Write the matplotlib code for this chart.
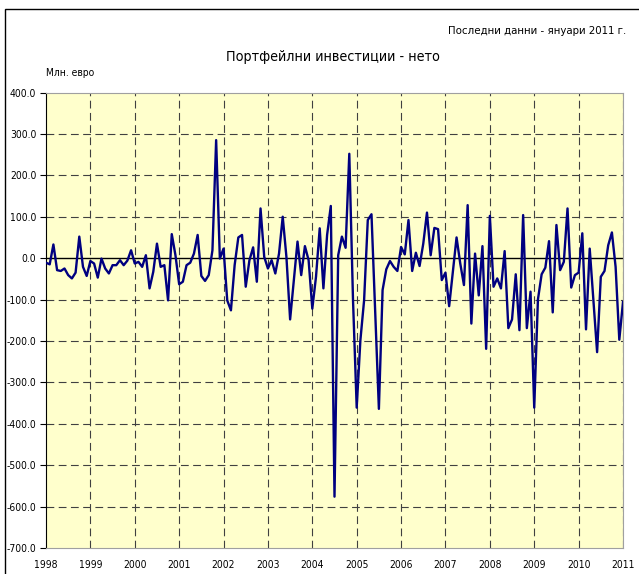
import numpy as np
import matplotlib.pyplot as plt
from matplotlib.patches import Rectangle
from matplotlib import font_manager

# monthly net portfolio investment, mln EUR, Jan 1998 - Jan 2011
y1998 = [-11, -15, 33, -29, -31, -25, -41, -49, -35, 52, -21, -43]
y1999 = [-7, -13, -47, -1, -25, -37, -17, -17, -5, -17, -6, 19]
y2000 = [-13, -9, -21, 7, -73, -33, 35, -21, -17, -102, 58, 7]
y2001 = [-63, -57, -17, -11, 11, 56, -43, -55, -41, 19, 285, -1]
y2002 = [23, -102, -126, -17, 50, 56, -69, -5, 26, -57, 120, 3]
y2003 = [-25, -5, -37, 11, 100, 3, -148, -53, 40, -41, 29, -5]
y2004 = [-122, -45, 72, -73, 56, 126, -576, 7, 52, 25, 252, -100]
y2005 = [-361, -198, -102, 92, 106, -130, -364, -77, -27, -7, -21, -31]
y2006 = [27, 9, 92, -31, 13, -19, 35, 110, 7, 73, 70, -53]
y2007 = [-35, -116, -33, 50, -13, -65, 128, -158, 11, -90, 29, -219]
y2008 = [102, -69, -49, -73, 17, -169, -148, -39, -174, 104, -169, -81]
y2009 = [-361, -100, -39, -23, 41, -131, 80, -29, -9, 120, -71, -41]
y2010 = [-35, 60, -172, 23, -102, -227, -45, -31, 31, 62, -21, -197]
y2011 = [-106]

values = (y1998 + y1999 + y2000 + y2001 + y2002 + y2003 + y2004 + y2005
          + y2006 + y2007 + y2008 + y2009 + y2010 + y2011)
years = list(range(1998, 2012))
x = 1998 + np.arange(len(values)) / 12.0

# narrow font if there is one, else Liberation Sans a bit smaller
names = [f.fname for f in font_manager.fontManager.ttflist]
if any('DejaVuSansCondensed' in n for n in names):
    plt.rcParams['font.family'] = ['DejaVu Sans']
    plt.rcParams['font.stretch'] = 'condensed'
    k = 0.82
else:
    plt.rcParams['font.family'] = ['Liberation Sans', 'DejaVu Sans']
    k = 0.76

fig = plt.figure(figsize=(6.39, 5.74), dpi=100)
ax = fig.add_axes([46/639, 1-548/574, (623-46)/639, (548-92.5)/574])
ax.set_facecolor('#FFFFCC')

ax.set_xlim(1998, 2011)
ax.set_ylim(-700, 400)
ax.set_yticks(np.arange(-700, 401, 100))
ax.set_yticklabels(['%.1f' % v for v in np.arange(-700, 401, 100)])
ax.set_xticks(years)
ax.set_xticklabels([str(y) for y in years])

for yy in np.arange(-600, 400, 100):
    if yy != 0:
        ax.axhline(yy, color='#404040', lw=0.8, ls=(0, (7, 4)), zorder=1)
for xx in years[1:]:
    ax.axvline(xx, color='#404040', lw=0.8, ls=(0, (7, 4)), zorder=1)
ax.axhline(0, color='black', lw=1.0, zorder=2)

ax.plot(x, values, color='#000080', lw=1.7, zorder=3)

for s in ['top', 'right', 'bottom']:
    ax.spines[s].set_color('#A0A0A0')
ax.spines['left'].set_color('black')
ax.tick_params(axis='y', direction='out', length=4, width=0.8, pad=3, labelsize=9*k)
ax.tick_params(axis='x', length=0, pad=9, labelsize=9*k)

fig.text(333/639, 1-57/574, 'Портфейлни инвестиции - нето', ha='center', va='center', fontsize=12.5*k)
fig.text(626/639, 1-31/574, 'Последни данни - януари 2011 г.', ha='right', va='center', fontsize=10*k)
fig.text(46/639, 1-73/574, 'Млн. евро', ha='left', va='center', fontsize=9*k)

fig.patches.append(Rectangle((5/639, -0.1), 1.2, 0.1 + 1 - 9/574, transform=fig.transFigure,
                             fill=False, edgecolor='black', lw=1.0))

plt.savefig('out.png', dpi=100)
